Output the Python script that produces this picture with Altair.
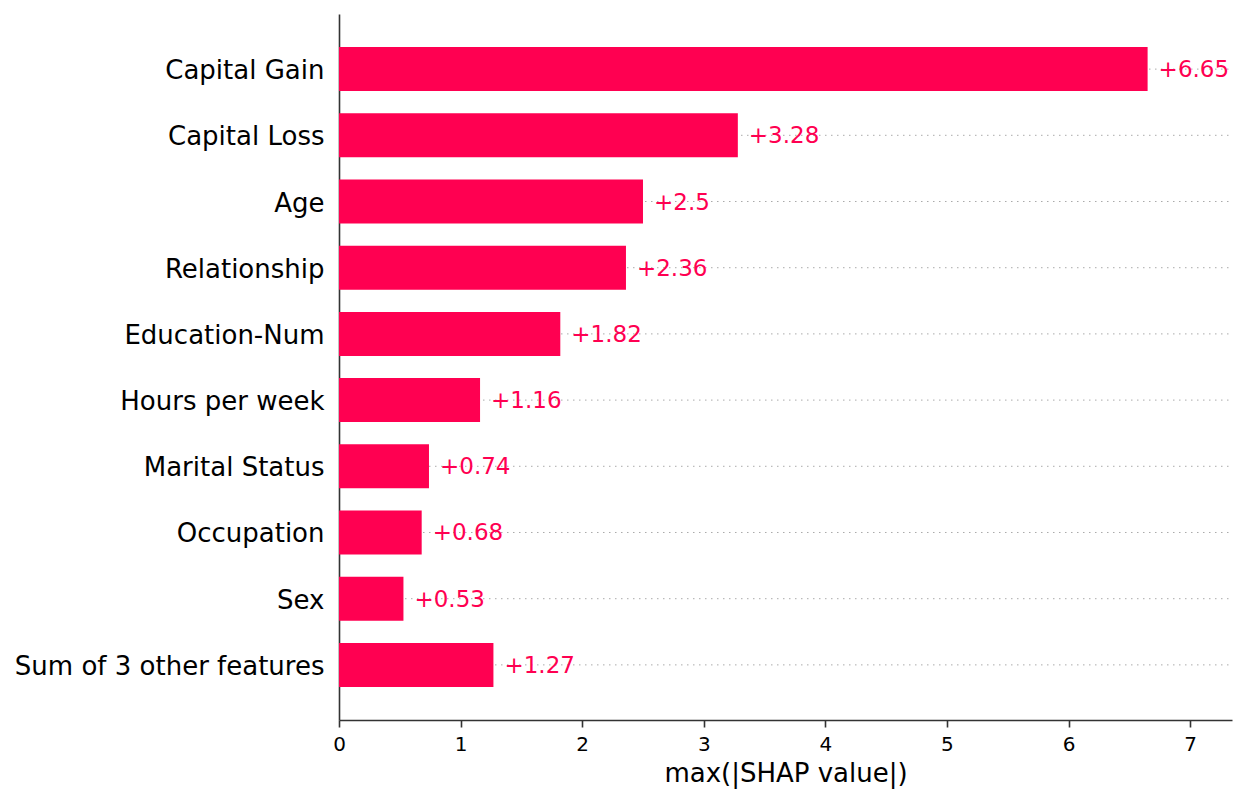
import altair as alt
import pandas as pd

features = ["Capital Gain", "Capital Loss", "Age", "Relationship", "Education-Num",
            "Hours per week", "Marital Status", "Occupation", "Sex", "Sum of 3 other features"]
values = [6.65, 3.28, 2.5, 2.36, 1.82, 1.16, 0.74, 0.68, 0.53, 1.27]
labels = ["+6.65", "+3.28", "+2.5", "+2.36", "+1.82", "+1.16", "+0.74", "+0.68", "+0.53", "+1.27"]
x_ticks = [0, 1, 2, 3, 4, 5, 6, 7]

df = pd.DataFrame({"feature": features, "value": values, "label": labels})

RED = "#ff0051"
FONT = "DejaVu Sans"
XMAX = 7.344

y_enc = alt.Y("feature:N", sort=features,
              scale=alt.Scale(paddingInner=0.335, paddingOuter=0.5),
              axis=alt.Axis(title=None, ticks=False, labelFontSize=26, labelFont=FONT,
                            labelColor="#000000", labelPadding=15, labelLimit=0,
                            labelOffset=2,
                            domainColor="#333333", domainWidth=1.6, grid=False))
x_scale = alt.Scale(domain=[0, XMAX], nice=False, zero=True)

grid = alt.Chart(df).mark_rule(color="#aaaaaa", strokeWidth=1, strokeDash=[1.5, 4.5]).encode(
    y=alt.Y("feature:N", sort=features, bandPosition=0.5),
    x=alt.value(0),
    x2=alt.value("width"),
)

bars = alt.Chart(df).mark_bar(color=RED).encode(
    y=y_enc,
    x=alt.X("value:Q", scale=x_scale,
            axis=alt.Axis(values=x_ticks, format="d", title="max(|SHAP value|)", titleFontSize=26,
                          titleFont=FONT, titleFontWeight="normal", titleColor="#000000",
                          titlePadding=6, labelFontSize=20, labelFont=FONT,
                          labelColor="#000000", labelPadding=7, tickSize=7,
                          tickColor="#333333", tickWidth=1.6, domainColor="#333333",
                          domainWidth=1.6, grid=False, labelFlush=False)),
)

text = alt.Chart(df).mark_text(align="left", baseline="middle", dx=11, dy=1, fontSize=23,
                               font=FONT, color=RED).encode(
    y=alt.Y("feature:N", sort=features),
    x=alt.X("value:Q", scale=x_scale),
    text="label:N",
)

chart = alt.layer(grid, bars, text).properties(
    width=893, height=706,
    padding={"left": 6, "top": 6, "right": 5, "bottom": 5},
).configure_view(stroke=None).configure_axis(labelFont=FONT, titleFont=FONT)

chart.save("out.html", embed_options={"renderer": "svg", "actions": False})
